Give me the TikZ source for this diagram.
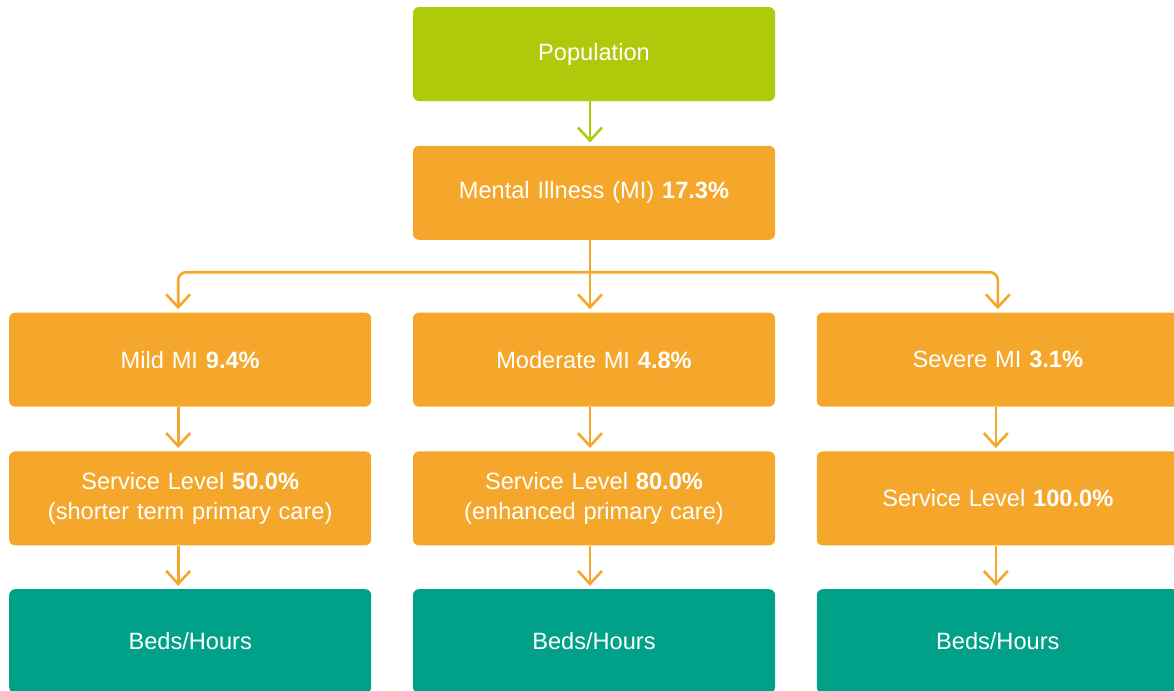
\documentclass[tikz,border=0pt]{standalone}
\usepackage{fontspec}
\setmainfont{Liberation Sans}
\usepackage{xcolor}
\usepackage{tikz}
\usetikzlibrary{arrows.meta, positioning}

\definecolor{popgreen}{RGB}{175,202,11}
\definecolor{mhorange}{RGB}{245,167,43}
\definecolor{bedteal}{RGB}{0,161,136}

\begin{document}
\begin{tikzpicture}[
    box/.style={rectangle, fill=mhorange, text=white, text width=175pt, align=center, rounded corners=3pt, minimum width=181pt, minimum height=47pt, inner sep=0pt, font=\fontsize{11.8}{15}\selectfont},
    popbox/.style={box, fill=popgreen},
    bedbox/.style={box, fill=bedteal, minimum height=52pt},
    arrow/.style={line width=1.3pt, draw=mhorange, -{Straight Barb[length=6.5pt,width=12pt,line width=1.3pt]}, shorten >=1.5pt}
  ]
    \clip (0,0) rectangle (587pt,-345.5pt);

    \node (population) [popbox] at (297pt,-27pt) {Population};

    \node (mental_illness) [box, below=22pt of population] {Mental Illness (MI) \textbf{17.3\%}};

    \node (moderate_mi) [box, below=36pt of mental_illness] {Moderate MI \textbf{4.8\%}};
    \node (mild_mi) [box, left=20.5pt of moderate_mi] {Mild MI \textbf{9.4\%}};
    \node (severe_mi) [box, right=20.5pt of moderate_mi] {Severe MI \textbf{3.1\%}};

    \node (mild_service) [box, below=22pt of mild_mi] {Service Level \textbf{50.0\%}\\(shorter term primary care)};
    \node (moderate_service) [box, below=22pt of moderate_mi] {Service Level \textbf{80.0\%}\\(enhanced primary care)};
    \node (severe_service) [box, below=22pt of severe_mi] {Service Level \textbf{100.0\%}};

    \node (mild_beds) [bedbox, below=21.5pt of mild_service] {Beds/Hours};
    \node (moderate_beds) [bedbox, below=21.5pt of moderate_service] {Beds/Hours};
    \node (severe_beds) [bedbox, below=21.5pt of severe_service] {Beds/Hours};

    \coordinate (split) at ([xshift=-2pt, yshift=-16pt]mental_illness.south);

    \draw [arrow, draw=popgreen] ([xshift=-2pt]population.south) -- ([xshift=-2pt]mental_illness.north);
    \draw [arrow] ([xshift=-2pt]mental_illness.south) -- ([xshift=-2pt]moderate_mi.north);
    \draw [arrow, rounded corners=4pt] (split) -| ([xshift=-6pt]mild_mi.north);
    \draw [arrow, rounded corners=4pt] (split) -| (severe_mi.north);

    \draw [arrow] ([xshift=-6pt]mild_mi.south) -- ([xshift=-6pt]mild_service.north);
    \draw [arrow] ([xshift=-2pt]moderate_mi.south) -- ([xshift=-2pt]moderate_service.north);
    \draw [arrow] ([xshift=-1pt]severe_mi.south) -- ([xshift=-1pt]severe_service.north);

    \draw [arrow] ([xshift=-6pt]mild_service.south) -- ([xshift=-6pt]mild_beds.north);
    \draw [arrow] ([xshift=-2pt]moderate_service.south) -- ([xshift=-2pt]moderate_beds.north);
    \draw [arrow] ([xshift=-1pt]severe_service.south) -- ([xshift=-1pt]severe_beds.north);

  \end{tikzpicture}
\end{document}
